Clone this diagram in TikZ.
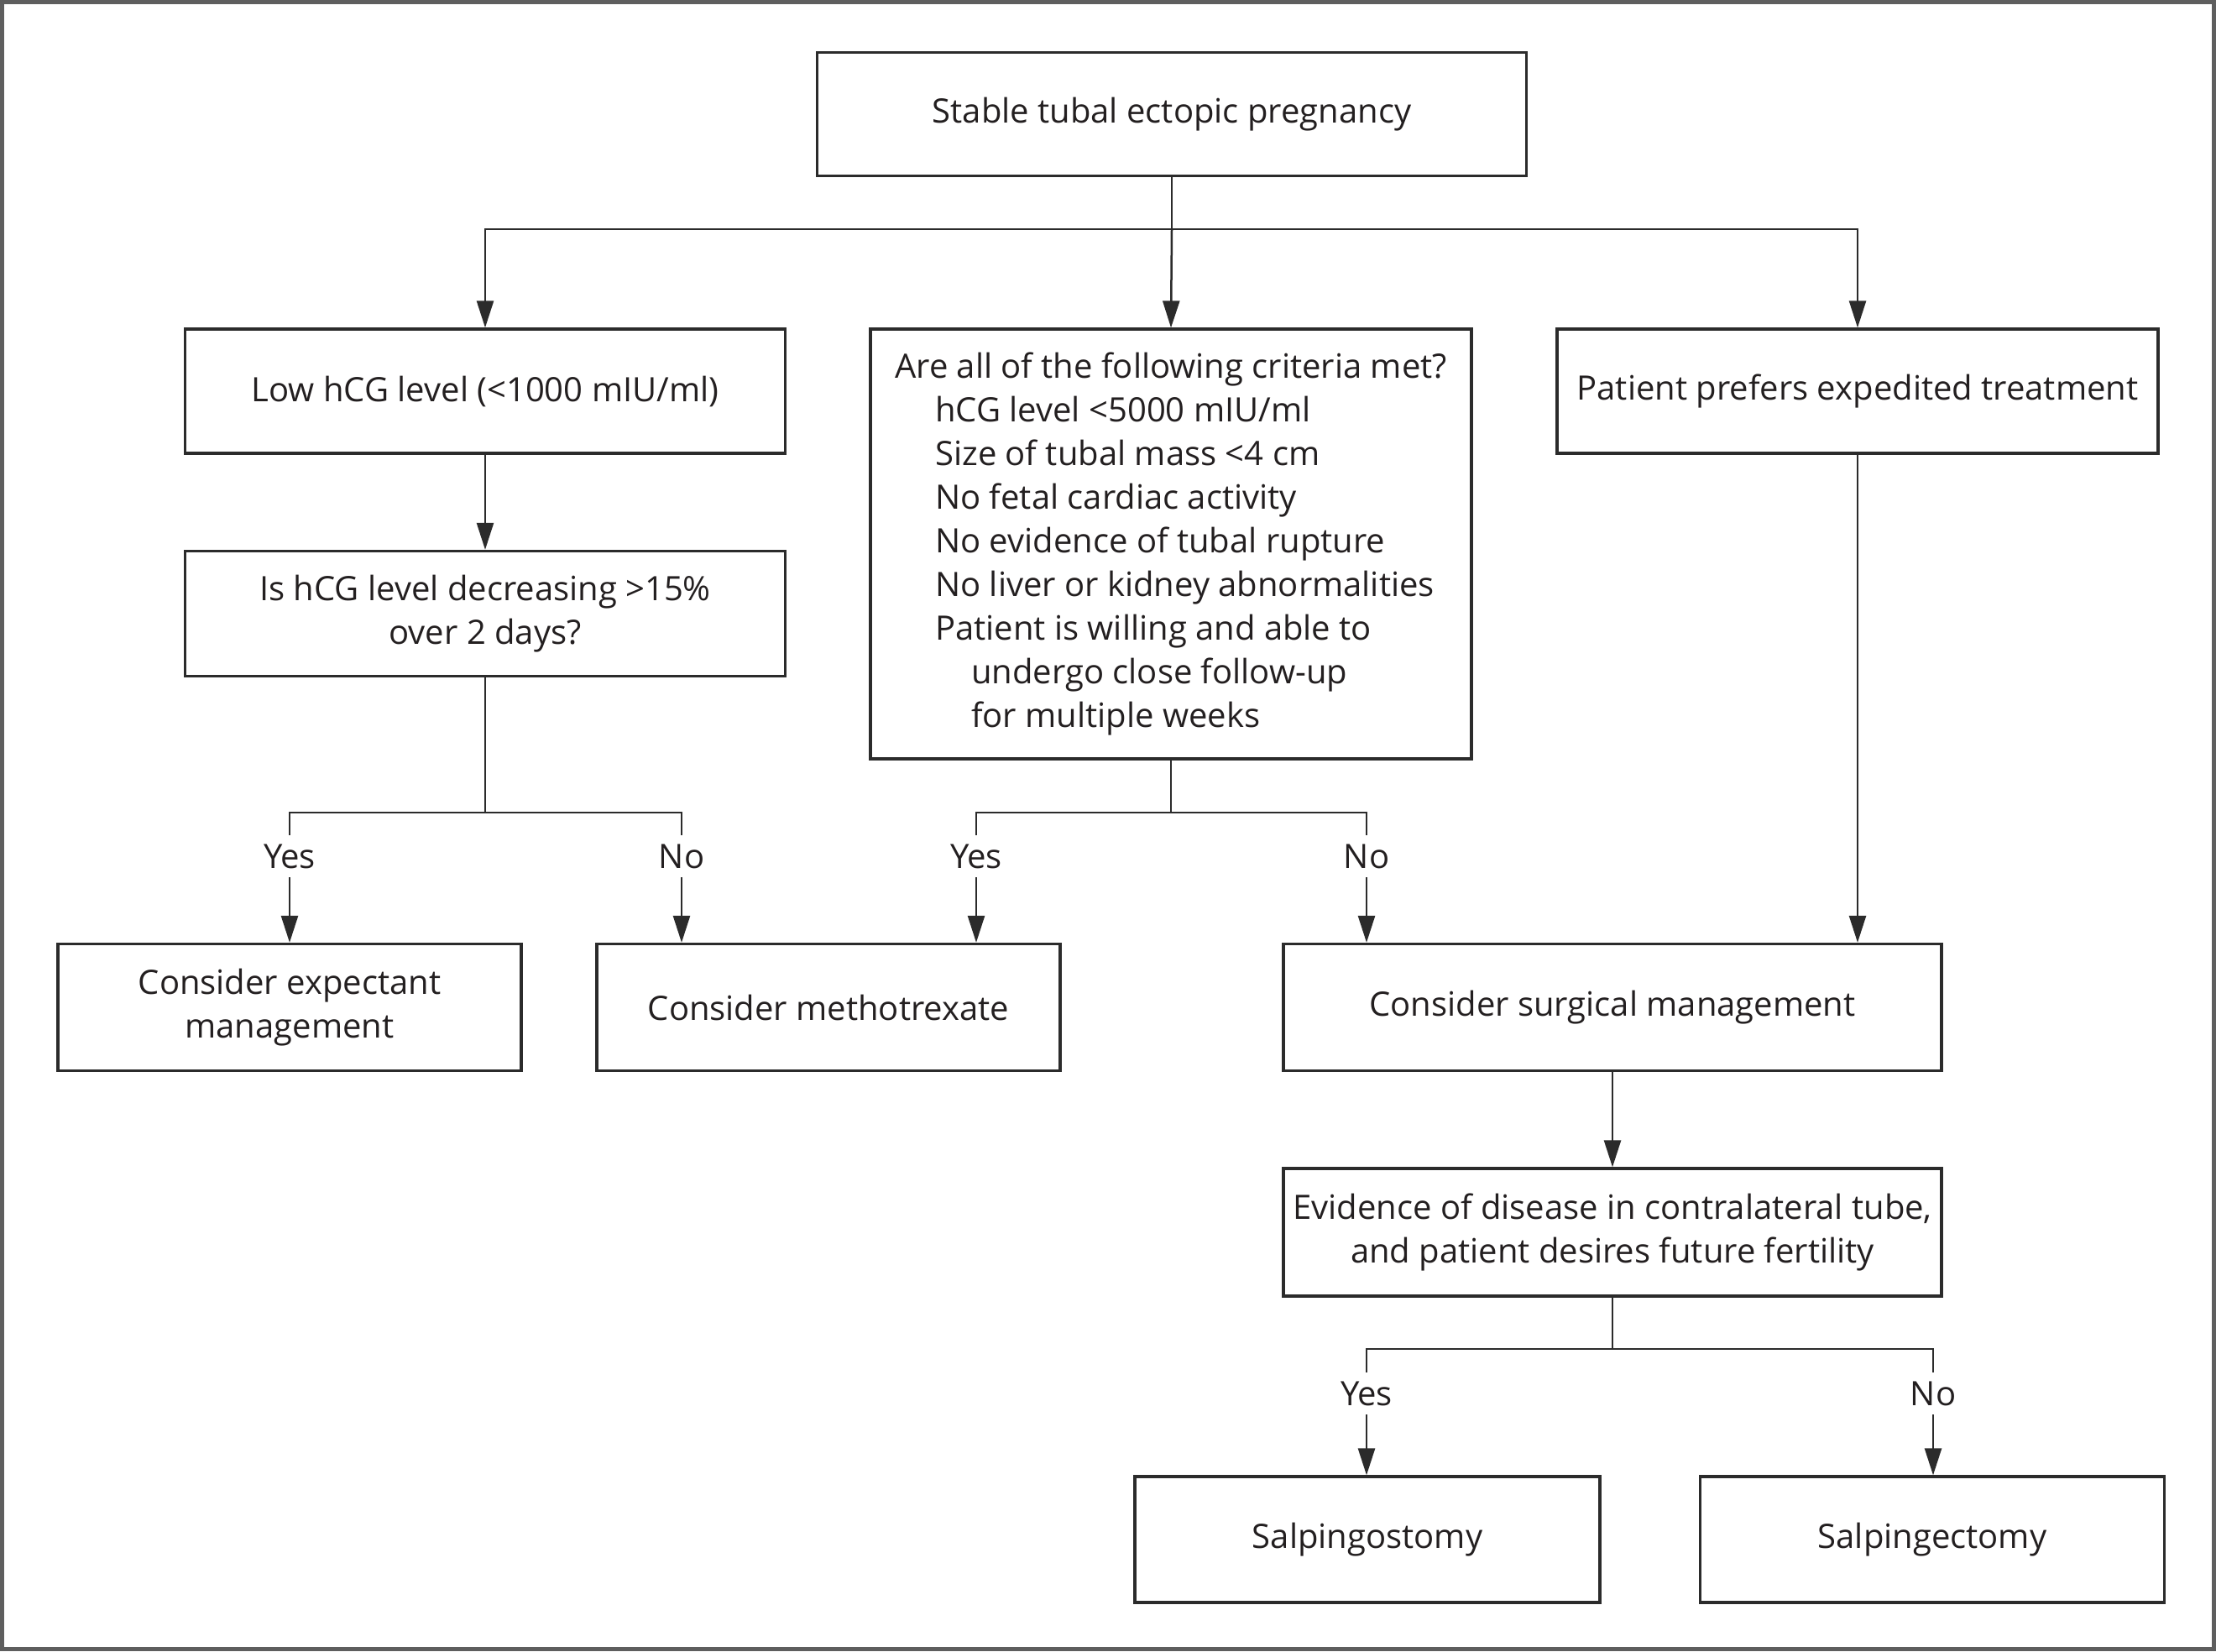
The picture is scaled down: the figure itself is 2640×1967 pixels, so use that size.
\documentclass[tikz,border=0pt]{standalone}
\usepackage{fontspec}
\setmainfont{Open Sans}
\usetikzlibrary{arrows.meta}
\definecolor{linec}{HTML}{2B2B2B}
\definecolor{txt}{HTML}{231F20}
\definecolor{framec}{HTML}{5E5E5E}
\begin{document}
\begin{tikzpicture}[x=0.5pt,y=-0.5pt,
  box/.style={draw=linec, line width=1.65pt, inner sep=0pt, align=center, text=txt,
    font=\fontsize{20}{26}\selectfont},
  conn/.style={draw=linec, line width=1.25pt},
  arr/.style={conn, -{Triangle[length=16pt,width=10pt]}},
  lab/.style={inner sep=0pt, minimum height=25pt, text=txt, font=\fontsize{20}{26}\selectfont}]
\useasboundingbox (0,0) rectangle (2640,1967);
\fill[white] (0,0) rectangle (2640,1967);
\draw[framec, line width=2.6pt] (2.6,2.6) rectangle (2637.4,1964.4);

% boxes
\node[box, minimum width=422.5pt, minimum height=73.5pt] (top) at (1396,136) {Stable tubal ectopic pregnancy};
\node[box, minimum width=357.5pt, minimum height=74pt] (L1) at (578,466) {Low hCG level (<1000 mIU/ml)};
\node[box, minimum width=357.5pt, minimum height=74.5pt] (L2) at (578,731) {Is hCG level decreasing >15\%\\over 2 days?};
\node[box, minimum width=358pt, minimum height=256pt, align=left] (C) at (1395,648) {Are all of the following criteria met?\\
\hspace*{24pt}hCG level <5000 mIU/ml\\
\hspace*{24pt}Size of tubal mass <4 cm\\
\hspace*{24pt}No fetal cardiac activity\\
\hspace*{24pt}No evidence of tubal rupture\\
\hspace*{24pt}No liver or kidney abnormalities\\
\hspace*{24pt}Patient is willing and able to\\
\hspace*{45.5pt}undergo close follow-up\\
\hspace*{45.5pt}for multiple weeks};
\node[box, minimum width=358pt, minimum height=74pt] (R) at (2213,466) {Patient prefers expedited treatment};
\node[box, minimum width=276pt, minimum height=75.5pt] (E) at (345,1200) {Consider expectant\\management};
\node[box, minimum width=276pt, minimum height=75.5pt] (M) at (987,1200) {Consider methotrexate};
\node[box, minimum width=392pt, minimum height=75.5pt] (S) at (1921,1200) {Consider surgical management};
\node[box, minimum width=392pt, minimum height=76pt] (D) at (1921,1468) {Evidence of disease in contralateral tube,\\and patient desires future fertility};
\node[box, minimum width=277pt, minimum height=75pt] (SO) at (1629,1834) {Salpingostomy};
\node[box, minimum width=276.5pt, minimum height=75pt] (SE) at (2302,1834) {Salpingectomy};

% labels
\node[lab] (y1) at (345,1020) {Yes};
\node[lab] (n1) at (812,1020) {No};
\node[lab] (y2) at (1163,1020) {Yes};
\node[lab] (n2) at (1628,1020) {No};
\node[lab] (y3) at (1628,1660) {Yes};
\node[lab] (n3) at (2303,1660) {No};

% junctions
\coordinate (j0) at (1396,273);
\coordinate (b1) at (578,968);
\coordinate (b2) at (1395,968);
\coordinate (b3) at (1921,1607);

% connectors
\draw[conn] (top.south) -- (j0);
\draw[arr] (j0) -| (L1.north);
\draw[arr] (j0) -| (R.north);
\draw[arr] (j0) -- (C.north);
\draw[arr] (L1.south) -- (L2.north);

\draw[conn] (L2.south) -- (b1);
\draw[conn] (b1) -| (y1.north);
\draw[conn] (b1) -| (n1.north);
\draw[arr] (y1.south) -- (y1.south |- E.north);
\draw[arr] (n1.south) -- (n1.south |- M.north);

\draw[conn] (C.south) -- (b2);
\draw[conn] (b2) -| (y2.north);
\draw[conn] (b2) -| (n2.north);
\draw[arr] (y2.south) -- (y2.south |- M.north);
\draw[arr] (n2.south) -- (n2.south |- S.north);

\draw[arr] (R.south) -- (R.south |- S.north);
\draw[arr] (S.south) -- (D.north);

\draw[conn] (D.south) -- (b3);
\draw[conn] (b3) -| (y3.north);
\draw[conn] (b3) -| (n3.north);
\draw[arr] (y3.south) -- (y3.south |- SO.north);
\draw[arr] (n3.south) -- (n3.south |- SE.north);
\end{tikzpicture}
\end{document}
